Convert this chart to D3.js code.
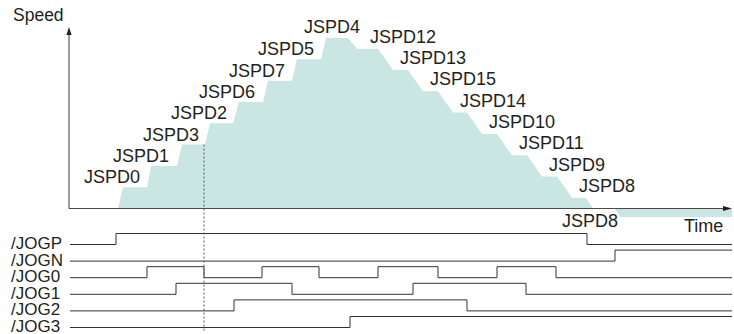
<!DOCTYPE html>
<html>
<head>
<meta charset="utf-8">
<script src="https://cdn.jsdelivr.net/npm/d3@7"></script>
<style>
  body { margin: 0; background: #fff; }
  text { font-family: "Liberation Sans", Arial, sans-serif; fill: #231f20; }
</style>
</head>
<body>
<script>
/*
* Données
*/

// paliers de vitesse (ordre d'apparition dans le temps)
const segName = ['JSPD0', 'JSPD1', 'JSPD3', 'JSPD2', 'JSPD6', 'JSPD7', 'JSPD5', 'JSPD4',
  'JSPD12', 'JSPD13', 'JSPD15', 'JSPD14', 'JSPD10', 'JSPD11', 'JSPD9', 'JSPD8', '', 'JSPD8']
const segSpeed = [1, 2, 3, 4, 5, 6, 7, 8, 7.5, 6.5, 5.5, 4.5, 3.5, 2.5, 1.5, 0.5, 0, -0.4]
const segRampStart = [49, 78, 108, 136, 164, 194, 223, 252, 279, 309, 339, 369, 398, 428, 458, 488, 517, 546]
const segRampEnd = [54, 82, 113, 141, 170, 199, 228, 257, 288, 324, 354, 384, 413, 443, 473, 503, 524, 551]
const timeEnd = 663

// signaux d'entrée : instants de basculement (départ à l'état bas)
const signalNames = ['/JOGP', '/JOGN', '/JOG0', '/JOG1', '/JOG2', '/JOG3']
const jogP = [47, 518]
const jogN = [546]
const jog0 = [78, 135, 193, 250, 309, 369, 428, 487]
const jog1 = [107, 223, 344, 457]
const jog2 = [165, 398]
const jog3 = [281]
const signalStart = 1

// repère pointillé
const markTime = 135
const markSpeed = 3

/*
* Mise en place
*/

const WIDTH = 734
const HEIGHT = 334
const svg = d3.select('body').append('svg')
  .attr('width', WIDTH)
  .attr('height', HEIGHT)

const xScale = d3.scaleLinear()
  .domain([0, timeEnd])
  .range([69, 732])

const yScale = d3.scaleLinear()
  .domain([0, 8])
  .range([208.5, 38])

const rowScale = d3.scalePoint()
  .domain(signalNames)
  .range([244.5, 327.5])

const levelScale = d3.scaleLinear()
  .domain([0, 1])
  .range([0, -11])

/*
* Profil de vitesse
*/

const profile = [[segRampStart[0], 0]]
segSpeed.forEach((s, i) => {
  profile.push([segRampEnd[i], s])
  profile.push([i + 1 < segSpeed.length ? segRampStart[i + 1] : timeEnd, s])
})

const area = d3.area()
  .x(d => xScale(d[0]))
  .y0(yScale(0))
  .y1(d => yScale(d[1]))

svg.append('path')
  .datum(profile)
  .attr('d', area)
  .attr('fill', '#c9e6e3')

/*
* Axes
*/

const axisColor = '#4a4a4a'
const y0 = yScale(0)
const yTop = 27

svg.append('line')
  .attr('x1', xScale(0)).attr('y1', y0)
  .attr('x2', xScale(0)).attr('y2', yTop + 6)
  .attr('stroke', axisColor).attr('stroke-width', 1.1)
svg.append('line')
  .attr('x1', xScale(0)).attr('y1', y0)
  .attr('x2', xScale(timeEnd) - 6).attr('y2', y0)
  .attr('stroke', axisColor).attr('stroke-width', 1.1)

svg.append('path')
  .attr('d', `M${xScale(0)},${yTop} L${xScale(0) - 2.6},${yTop + 8} L${xScale(0) + 2.6},${yTop + 8} Z`)
  .attr('fill', '#222')
svg.append('path')
  .attr('d', `M${xScale(timeEnd)},${y0} L${xScale(timeEnd) - 9},${y0 - 2.6} L${xScale(timeEnd) - 9},${y0 + 2.6} Z`)
  .attr('fill', '#222')

svg.append('text')
  .attr('x', 13).attr('y', 21)
  .attr('font-size', 17.5)
  .text('Speed')

svg.append('text')
  .attr('x', 684).attr('y', 232)
  .attr('font-size', 18)
  .text('Time')

/*
* Étiquettes des paliers
*/

svg.append('g')
  .selectAll('text')
  .data(segName.map((n, i) => ({ n, i })).filter(d => d.n !== ''))
  .enter()
  .append('text')
  .attr('font-size', 18)
  .attr('x', d => {
    if (d.i < 7) return xScale(segRampStart[d.i]) - 34
    if (d.i === 7) return (xScale(segRampEnd[7]) + xScale(segRampStart[8])) / 2 - 5
    if (segSpeed[d.i] < 0) return xScale(segRampStart[d.i]) + 3
    return xScale(segRampStart[d.i]) + 22
  })
  .attr('y', d => {
    if (segSpeed[d.i] < 0) return yScale(segSpeed[d.i]) + 10
    if (d.i < 7) return yScale(segSpeed[d.i]) - 4
    if (d.i === 7) return yScale(segSpeed[d.i]) - 5
    return yScale(segSpeed[d.i]) - 6
  })
  .attr('text-anchor', d => (d.i === 7 ? 'middle' : (segSpeed[d.i] < 0 ? 'end' : 'start')))
  .text(d => d.n)

/*
* Chronogramme des signaux
*/

const toggles = [jogP, jogN, jog0, jog1, jog2, jog3]

const stepLine = d3.line()
  .x(d => xScale(d[0]))
  .y(d => d[1])
  .curve(d3.curveStepAfter)

toggles.forEach((times, k) => {
  const name = signalNames[k]
  const pts = [[signalStart, 0]]
  times.forEach((t, j) => pts.push([t, (j + 1) % 2]))
  pts.push([timeEnd, times.length % 2])

  svg.append('path')
    .datum(pts.map(p => [p[0], rowScale(name) + levelScale(p[1])]))
    .attr('d', stepLine)
    .attr('fill', 'none')
    .attr('stroke', '#333')
    .attr('stroke-width', 1)

  svg.append('text')
    .attr('x', 11)
    .attr('y', rowScale(name) + 4.5)
    .attr('font-size', 17)
    .text(name)
})

// ligne pointillée
svg.append('line')
  .attr('x1', xScale(markTime)).attr('y1', yScale(markSpeed))
  .attr('x2', xScale(markTime)).attr('y2', 331)
  .attr('stroke', '#555')
  .attr('stroke-width', 1)
  .attr('stroke-dasharray', '2,2')
</script>
</body>
</html>
